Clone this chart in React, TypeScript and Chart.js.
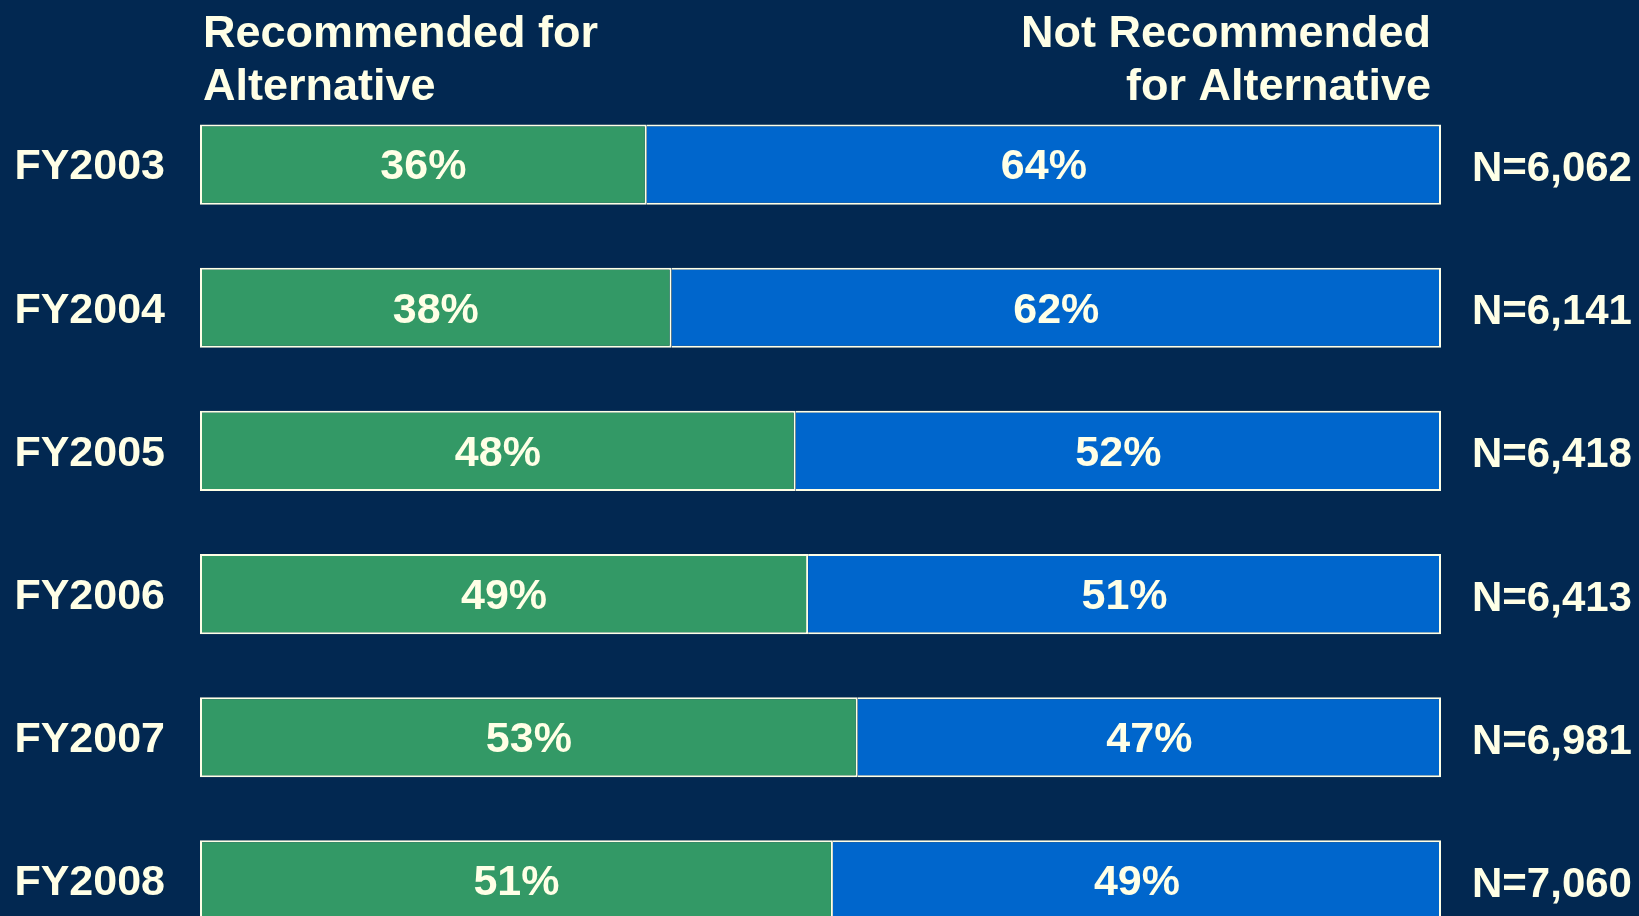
import React, { useEffect, useRef } from "react";
import { Chart, registerables } from "chart.js";

Chart.register(...registerables);

const categories = ["FY2003", "FY2004", "FY2005", "FY2006", "FY2007", "FY2008"];
const recommended = [36, 38, 48, 49, 53, 51];
const notRecommended = [64, 62, 52, 51, 47, 49];
const nLabels = ["N=6,062", "N=6,141", "N=6,418", "N=6,413", "N=6,981", "N=7,060"];
const headerLeft = ["Recommended for", "Alternative"];
const headerRight = ["Not Recommended", "for Alternative"];

const BG = "#022851";
const GREEN = "#339966";
const BLUE = "#0066CC";
const CREAM = "#FFFFE6";
const FONT = "'Liberation Sans', Arial, sans-serif";

const W = 1639;
const H = 960;

const valueLabels = {
  id: "valueLabels",
  afterDatasetsDraw(chart: any) {
    const ctx = chart.ctx;
    ctx.save();
    ctx.fillStyle = CREAM;
    ctx.font = `bold 43px ${FONT}`;
    ctx.textAlign = "center";
    ctx.textBaseline = "middle";
    chart.data.datasets.forEach((ds: any, di: number) => {
      const meta = chart.getDatasetMeta(di);
      meta.data.forEach((el: any, i: number) => {
        const cx = (el.x + el.base) / 2;
        ctx.fillText(`${ds.data[i]}%`, cx, el.y + 3);
      });
    });
    ctx.restore();
  },
};

const headers = {
  id: "headers",
  afterDraw(chart: any) {
    const ctx = chart.ctx;
    const area = chart.chartArea;
    ctx.save();
    ctx.fillStyle = CREAM;
    ctx.font = `bold 45px ${FONT}`;
    ctx.textBaseline = "alphabetic";
    ctx.textAlign = "left";
    headerLeft.forEach((t, i) => ctx.fillText(t, area.left + 3, 47 + i * 53));
    ctx.textAlign = "right";
    headerRight.forEach((t, i) => ctx.fillText(t, area.right - 10, 47 + i * 53));
    ctx.restore();
  },
};

export default function App() {
  const ref = useRef<HTMLCanvasElement>(null);

  useEffect(() => {
    if (!ref.current) return;
    const chart = new Chart(ref.current, {
      type: "bar",
      data: {
        labels: categories,
        datasets: [
          {
            label: "Recommended for Alternative",
            data: recommended,
            backgroundColor: GREEN,
            borderColor: CREAM,
            borderWidth: { left: 2, top: 2, bottom: 2, right: 2 },
            borderSkipped: false,
            barPercentage: 0.56,
            categoryPercentage: 1,
          },
          {
            label: "Not Recommended for Alternative",
            data: notRecommended,
            backgroundColor: BLUE,
            borderColor: CREAM,
            borderWidth: { left: 0, top: 2, bottom: 2, right: 2 },
            borderSkipped: false,
            barPercentage: 0.56,
            categoryPercentage: 1,
          },
        ],
      },
      options: {
        indexAxis: "y",
        responsive: false,
        animation: false,
        devicePixelRatio: 1,
        layout: { padding: { top: 93, bottom: 8, left: 0, right: 0 } },
        plugins: {
          legend: { display: false },
          tooltip: { enabled: false },
          title: { display: false },
        },
        scales: {
          x: { stacked: true, min: 0, max: 100, display: false },
          y: {
            type: "category",
            stacked: true,
            position: "left",
            offset: true,
            grid: { display: false, drawTicks: false },
            border: { display: false },
            ticks: {
              color: CREAM,
              padding: 35,
              labelOffset: 3,
              font: { family: FONT, size: 43, weight: "bold" },
            },
            afterFit: (s: any) => {
              s.width = 200;
              s.paddingTop = 0;
              s.paddingBottom = 0;
            },
          },
          y2: {
            type: "category",
            labels: nLabels,
            position: "right",
            offset: true,
            grid: { display: false, drawTicks: false },
            border: { display: false },
            ticks: {
              color: CREAM,
              padding: 31,
              labelOffset: 5,
              font: { family: FONT, size: 42, weight: "bold" },
            },
            afterFit: (s: any) => {
              s.width = 198;
              s.paddingTop = 0;
              s.paddingBottom = 0;
            },
          },
        },
      } as any,
      plugins: [valueLabels, headers],
    });
    return () => chart.destroy();
  }, []);

  return (
    <div
      style={{
        position: "fixed",
        top: 0,
        left: 0,
        width: W,
        height: 916,
        overflow: "hidden",
        background: BG,
      }}
    >
      <canvas ref={ref} width={W} height={H} style={{ display: "block", width: W, height: H }} />
    </div>
  );
}
